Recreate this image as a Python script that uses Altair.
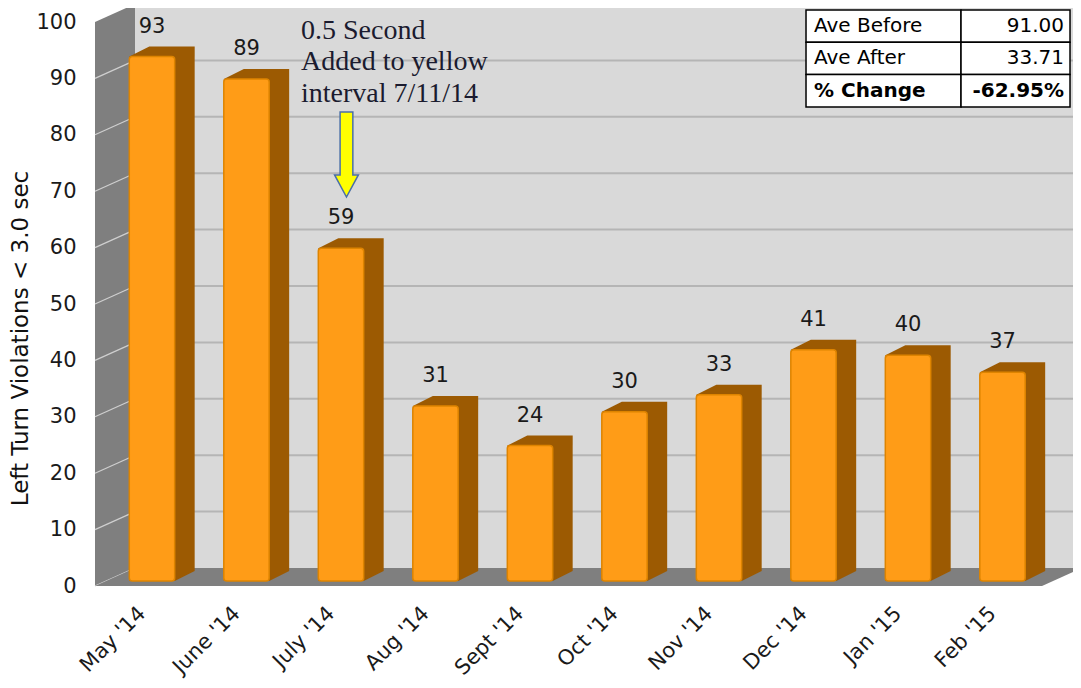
import json
import altair as alt
import pandas as pd

# ---------------- data ----------------
months = ["May '14", "June '14", "July '14", "Aug '14", "Sept '14",
          "Oct '14", "Nov '14", "Dec '14", "Jan '15", "Feb '15"]
violations = [93, 89, 59, 31, 24, 30, 33, 41, 40, 37]
y_ticks = [0, 10, 20, 30, 40, 50, 60, 70, 80, 90, 100]
table_labels = ["Ave Before", "Ave After", "% Change"]
table_values = [91.00, 33.71, -62.95]
annotation_lines = ["0.5 Second", "Added to yellow", "interval 7/11/14"]
annotated_month = "July '14"

# ---------------- layout constants ----------------
X_MIN, X_MAX = -0.603, 9.746
PX_X, PX_Y = 94.5, 5.64
WALL_DX, WALL_DY = 40 / PX_X, 18 / PX_Y
BAR_HALF, BAR_BASE = 0.24, 0.9
DEPTH_DX, DEPTH_DY = 20 / PX_X, 10 / PX_Y
LABEL_GAP = 6.2
SANS, SERIF = "DejaVu Sans", "Liberation Serif"
FRONT, FRONT_EDGE, SIDE = "#FF9C17", "#DE8400", "#9C5A02"

xs = alt.Scale(domain=[X_MIN, X_MAX], nice=False, zero=False)
ys = alt.Scale(domain=[0, 100], nice=False, zero=False)

XAX = alt.Axis(
    values=list(range(len(months))),
    labelExpr=json.dumps(months) + "[datum.value]",
    labelAngle=-45, labelAlign="right", labelBaseline="middle",
    labelOffset=-10, labelPadding=24, ticks=False, tickSize=0,
    domain=False, grid=False, title=None, labelOverlap=False, labelFlush=False,
    labelFont=SANS, labelFontSize=21, labelColor="#1a1a1a")
YAX = alt.Axis(
    values=y_ticks, format="d", ticks=False, tickSize=0, domain=False, grid=False,
    labelPadding=19, labelOverlap=False, labelFlush=False,
    labelFont=SANS, labelFontSize=21, labelColor="#1a1a1a",
    title="Left Turn Violations < 3.0 sec", titleFont=SANS, titleFontSize=23,
    titleFontWeight="normal", titleColor="#111111", titleAngle=270,
    titleX=-75, titleY=316, titleAlign="center", titleBaseline="middle")


def X(f, **kw):
    return alt.X(f, scale=xs, axis=XAX, **kw)


def Y(f, **kw):
    return alt.Y(f, scale=ys, axis=YAX, stack=None, **kw)


# ---------------- walls & floor ----------------
back_x = X_MIN + WALL_DX
back_wall = alt.Chart(pd.DataFrame({"x": [back_x], "x2": [11.0], "y": [WALL_DY], "y2": [100 + WALL_DY]})).mark_rect(
    color="#D9D9D9"
).encode(x=X("x:Q"), x2="x2:Q", y=Y("y:Q"), y2="y2:Q")

back_grid = alt.Chart(pd.DataFrame({"v": y_ticks[1:-1]})).transform_calculate(
    y=f"datum.v + {WALL_DY}", x=f"{back_x}", x2="11"
).mark_rule(color="#B5B5B5", strokeWidth=2).encode(x=X("x:Q"), x2="x2:Q", y=Y("y:Q"))

left_wall = alt.Chart(pd.DataFrame({
    "x": [X_MIN, back_x], "y": [0, WALL_DY], "y2": [100, 100 + WALL_DY]})).mark_area(
    color="#7F7F7F", opacity=1
).encode(x=X("x:Q"), y=Y("y:Q"), y2="y2:Q")

left_grid = alt.Chart(pd.DataFrame({"v": y_ticks[:-1]})).transform_calculate(
    x=f"{X_MIN}", x2=f"{back_x}", y2=f"datum.v + {WALL_DY}"
).mark_rule(color="#CFCFCF", strokeWidth=1.2).encode(x=X("x:Q"), x2="x2:Q", y=Y("v:Q"), y2="y2:Q")

floor_end = X_MIN + (1042 - 95) / PX_X
floor = alt.Chart(pd.DataFrame({
    "x": [X_MIN, back_x, floor_end, floor_end + WALL_DX],
    "y": [0, 0, 0, WALL_DY],
    "y2": [0, WALL_DY, WALL_DY, WALL_DY]})).mark_area(color="#7F7F7F", opacity=1).encode(
    x=X("x:Q"), y=Y("y:Q"), y2="y2:Q")

# ---------------- bars ----------------
bars = pd.DataFrame({"month": months, "value": violations, "i": range(len(months))})
bars["x0"] = bars["i"] - BAR_HALF
bars["x1"] = bars["i"] + BAR_HALF
bars["y0"] = BAR_BASE
bars["y1"] = bars["value"] + BAR_BASE
bars["label_y"] = bars["value"] + LABEL_GAP

side_rows = []
for _, r in bars.iterrows():
    top = r["y1"] + DEPTH_DY
    side_rows += [
        {"g": r["month"], "x": r["x0"], "y": r["y1"], "y2": r["y0"]},
        {"g": r["month"], "x": r["x0"] + DEPTH_DX, "y": top, "y2": r["y0"]},
        {"g": r["month"], "x": r["x1"], "y": top, "y2": r["y0"]},
        {"g": r["month"], "x": r["x1"] + DEPTH_DX, "y": top, "y2": r["y0"] + DEPTH_DY},
    ]
side = alt.Chart(pd.DataFrame(side_rows)).mark_area(color=SIDE, opacity=1, interpolate="linear").encode(
    x=X("x:Q"), y=Y("y:Q"), y2="y2:Q", detail="g:N")

front = alt.Chart(bars).mark_rect(
    color=FRONT, stroke=FRONT_EDGE, strokeWidth=1.5, cornerRadius=3
).encode(x=X("x0:Q"), x2="x1:Q", y=Y("y0:Q"), y2="y1:Q")

values = alt.Chart(bars).mark_text(
    font=SANS, fontSize=21, color="#1a1a1a", baseline="middle", align="center"
).encode(x=X("i:Q"), y=Y("label_y:Q"), text="value:Q")

# ---------------- annotation ----------------
ann_i = months.index(annotated_month)
annot = alt.Chart(pd.DataFrame({"t": ["\n".join(annotation_lines)],
                                "x": [X_MIN + (301 - 95) / PX_X], "y": [97.0]})).mark_text(
    font=SERIF, fontSize=28, color="#1b1b2f", align="left", baseline="alphabetic",
    lineBreak="\n", lineHeight=31.5
).encode(x=X("x:Q"), y=Y("y:Q"), text="t:N")

arrow_path = "M-0.15,-1 L0.15,-1 L0.15,0.48 L0.28,0.48 L0,1 L-0.28,0.48 L-0.15,0.48 Z"
arrow = alt.Chart(pd.DataFrame({"x": [ann_i + 0.058], "y": [76.5]})).mark_point(
    shape=arrow_path, size=85 * 85, filled=True, fill="#FFFF00", stroke="#4A6FA8",
    strokeWidth=1.5, opacity=1
).encode(x=X("x:Q"), y=Y("y:Q"))

# ---------------- summary table ----------------
t_left = X_MIN + (806 - 95) / PX_X
t_mid = X_MIN + (961 - 95) / PX_X
t_right = X_MIN + (1070 - 95) / PX_X
t_top = (586 - 10) / PX_Y
row_h = 32.3 / PX_Y
cells, texts = [], []
for k, (lab, val) in enumerate(zip(table_labels, table_values)):
    top = t_top - k * row_h
    bottom = top - row_h
    bold = k == len(table_labels) - 1
    vtxt = f"{val:.2f}%" if bold else f"{val:.2f}"
    cells.append({"x": t_left, "x2": t_mid, "y": bottom, "y2": top})
    cells.append({"x": t_mid, "x2": t_right, "y": bottom, "y2": top})
    texts.append({"x": t_left, "y": (top + bottom) / 2, "t": lab, "side": "l", "bold": bold})
    texts.append({"x": t_right, "y": (top + bottom) / 2, "t": vtxt, "side": "r", "bold": bold})
cells_df, texts_df = pd.DataFrame(cells), pd.DataFrame(texts)

table_cells = alt.Chart(cells_df).mark_rect(fill="white", stroke="black", strokeWidth=1.5).encode(
    x=X("x:Q"), x2="x2:Q", y=Y("y:Q"), y2="y2:Q")


def table_text(side_, bold, align, dx):
    return alt.Chart(texts_df).transform_filter(
        f"datum.side == '{side_}' && datum.bold == {str(bold).lower()}"
    ).mark_text(font=SANS, fontSize=20, color="black", align=align, baseline="middle", dx=dx,
                fontWeight="bold" if bold else "normal").encode(x=X("x:Q"), y=Y("y:Q"), text="t:N")


table_layers = [table_text("l", False, "left", 8), table_text("r", False, "right", -6),
                table_text("l", True, "left", 8), table_text("r", True, "right", -6)]

chart = alt.layer(
    back_wall, back_grid, left_wall, left_grid, floor, side, front, values, annot, arrow,
    table_cells, *table_layers
).properties(
    width=978, height=564,
    autosize=alt.AutoSizeParams(type="none"),
    padding={"left": 87, "top": 14, "right": 0, "bottom": 94},
    background="white",
).configure_view(stroke=None)

chart.save("out.html", embed_options={"renderer": "svg", "actions": False})
